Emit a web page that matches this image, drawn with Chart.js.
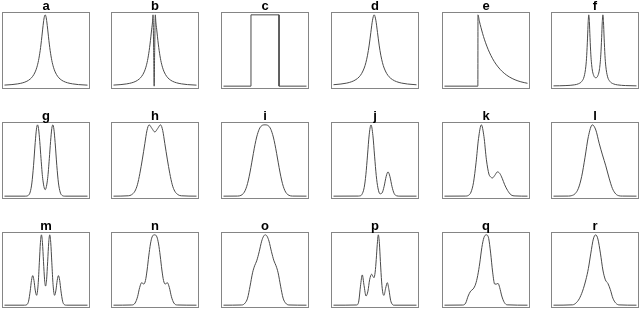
<!DOCTYPE html>
<html>
<head>
<meta charset="utf-8">
<script src="https://cdn.jsdelivr.net/npm/chart.js@4.4.1/dist/chart.umd.min.js"></script>
<style>
  html, body { margin: 0; padding: 0; background: #fff; overflow: hidden; }
  #wrap { position: relative; width: 640px; height: 310px; }
  #wrap canvas { position: absolute; }
</style>
</head>
<body>
<div id="wrap"></div>
<script>
// panel titles, left-to-right, top-to-bottom
const titles = ['a', 'b', 'c', 'd', 'e', 'f', 'g', 'h', 'i', 'j', 'k', 'l', 'm', 'n', 'o', 'p', 'q', 'r'];

// curves, x in 0..100 across the panel, y normalised to the peak
const aX = [0, 9, 16, 22, 27, 31, 34, 37, 39, 41, 43, 44, 45, 46, 47, 48, 49, 50, 51, 52, 53, 54, 55, 57, 59, 61, 64, 67, 71, 76, 82, 89, 100];
const aY = [0.015, 0.022, 0.032, 0.047, 0.069, 0.1, 0.138, 0.2, 0.265, 0.36, 0.5, 0.59, 0.692, 0.8, 0.9, 0.973, 1, 0.973, 0.9, 0.8, 0.692, 0.59, 0.5, 0.36, 0.265, 0.2, 0.138, 0.1, 0.069, 0.047, 0.032, 0.022, 0.014];

const bX = [0, 9, 16, 22, 27, 31, 34, 37, 39, 41, 43, 44, 45, 46, 47, 47.6, 48.4, 49, 49.6, 50.4, 51, 52, 53, 54, 55, 57, 59, 61, 64, 67, 71, 76, 82, 89, 100];
const bY = [0.015, 0.022, 0.032, 0.047, 0.069, 0.1, 0.138, 0.2, 0.265, 0.36, 0.5, 0.59, 0.692, 0.8, 0.9, 1, 0.5, 0, 0.5, 1, 0.9, 0.8, 0.692, 0.59, 0.5, 0.36, 0.265, 0.2, 0.138, 0.1, 0.069, 0.047, 0.032, 0.022, 0.014];

const cX = [0, 33.1, 33.1, 66.9, 66.9, 100];
const cY = [0, 0, 1, 1, 0, 0];

const dX = [0, 9, 16, 22, 27, 31, 34, 37, 39, 41, 43, 45, 47, 49, 51, 53, 55, 57, 59, 61, 64, 67, 71, 76, 82, 89, 100];
const dY = [0.02, 0.03, 0.043, 0.063, 0.092, 0.131, 0.179, 0.254, 0.329, 0.434, 0.576, 0.754, 0.925, 1, 0.925, 0.754, 0.576, 0.434, 0.329, 0.254, 0.179, 0.131, 0.092, 0.063, 0.043, 0.03, 0.019];

const eX = [0, 40.2, 40.35, 42, 44, 46, 48, 51, 54, 58, 62, 67, 72, 78, 85, 92, 100];
const eY = [0, 0, 1, 0.912, 0.819, 0.735, 0.659, 0.561, 0.477, 0.384, 0.309, 0.236, 0.18, 0.13, 0.089, 0.061, 0.04];

const fX = [0, 15, 25, 30, 34, 37, 39, 40, 41, 41.8, 42.5, 43.2, 44, 45, 46.5, 48.5, 51, 53.5, 55.5, 57, 58, 58.8, 59.5, 60.2, 61, 62, 63, 65, 68, 72, 77, 87, 100];
const fY = [0.004, 0.008, 0.018, 0.033, 0.066, 0.139, 0.28, 0.43, 0.674, 0.904, 1, 0.906, 0.68, 0.439, 0.247, 0.148, 0.118, 0.148, 0.247, 0.439, 0.68, 0.906, 1, 0.904, 0.674, 0.43, 0.28, 0.139, 0.066, 0.033, 0.018, 0.008, 0.004];

const gX = [0, 25, 29, 31, 33, 35, 37, 38.5, 39.8, 41, 42.5, 44, 46, 49, 52, 54, 55.5, 57, 58.2, 59.5, 61, 63, 65, 67, 69, 73, 100];
const gY = [0, 0, 0.014, 0.059, 0.185, 0.432, 0.751, 0.94, 1, 0.949, 0.766, 0.526, 0.25, 0.091, 0.25, 0.526, 0.766, 0.949, 1, 0.94, 0.751, 0.432, 0.185, 0.059, 0.014, 0, 0];

const hX = [0, 17.8, 21.8, 25.8, 28.8, 31.8, 34.8, 37.8, 40.3, 42.9, 46.3, 49.8, 53.3, 56.7, 59.3, 61.8, 64.8, 67.8, 70.8, 73.8, 77.8, 81.8, 100];
const hY = [0, 0.005, 0.02, 0.07, 0.16, 0.32, 0.52, 0.74, 0.92, 1, 0.95, 0.9, 0.95, 1, 0.92, 0.74, 0.52, 0.32, 0.16, 0.07, 0.02, 0.005, 0];

const iX = [0, 17, 21, 24, 26, 28, 30, 32, 34, 36, 38, 40, 43, 46, 50, 54, 57, 60, 62, 64, 66, 68, 70, 72, 74, 76, 79, 83, 100];
const iY = [0, 0.001, 0.011, 0.038, 0.076, 0.138, 0.226, 0.338, 0.467, 0.6, 0.725, 0.83, 0.938, 0.988, 1, 0.988, 0.938, 0.83, 0.725, 0.6, 0.467, 0.338, 0.226, 0.138, 0.076, 0.038, 0.011, 0.001, 0];

const jX = [0, 30, 31.5, 34, 37, 39, 41, 43, 45.2, 47.5, 49.5, 51.5, 53.5, 56, 58.5, 61, 63.5, 65.7, 68, 70.5, 73, 76, 80, 100];
const jY = [0, 0.001, 0.003, 0.02, 0.122, 0.301, 0.576, 0.86, 1, 0.848, 0.561, 0.289, 0.117, 0.033, 0.045, 0.138, 0.279, 0.34, 0.274, 0.133, 0.039, 0.005, 0, 0];

const kX = [0, 25, 29, 32, 35, 38, 41, 44.4, 47.5, 50.5, 53.5, 55.5, 57.7, 60.5, 63.8, 66.5, 69.5, 72.5, 76, 80, 85, 100];
const kY = [0, 0.001, 0.012, 0.058, 0.195, 0.468, 0.807, 1, 0.838, 0.51, 0.31, 0.27, 0.255, 0.29, 0.34, 0.32, 0.25, 0.16, 0.08, 0.02, 0.003, 0];

const lX = [0, 18, 22, 26, 30, 34, 38, 42, 46.8, 51, 55, 59, 63, 67, 71, 75, 79, 83, 100];
const lY = [0, 0.001, 0.008, 0.034, 0.11, 0.278, 0.546, 0.835, 1, 0.927, 0.743, 0.578, 0.425, 0.253, 0.107, 0.031, 0.005, 0.001, 0];

const mX = [0, 24, 27, 29, 31, 32.5, 34, 35.5, 37, 38.7, 40.5, 42, 43.3, 44.5, 45.7, 47, 48.3, 49.5, 50.7, 52, 53.3, 54.5, 55.7, 57, 58.5, 60.3, 62, 63.5, 65, 66.5, 68, 70, 72, 75, 100];
const mY = [0, 0, 0.008, 0.057, 0.204, 0.351, 0.42, 0.352, 0.215, 0.14, 0.292, 0.61, 0.891, 1, 0.893, 0.618, 0.361, 0.271, 0.361, 0.618, 0.893, 1, 0.891, 0.61, 0.292, 0.14, 0.215, 0.352, 0.42, 0.351, 0.204, 0.057, 0.008, 0, 0];

const nX = [0, 22, 26, 29, 31.5, 34, 36.5, 38.5, 40.5, 42.5, 44.5, 46.5, 49.4, 52.3, 54.3, 56.3, 58.3, 60.3, 62.3, 64.8, 67.3, 69.8, 72.8, 76.8, 100];
const nY = [0, 0.003, 0.03, 0.12, 0.25, 0.32, 0.3, 0.35, 0.5, 0.7, 0.87, 0.97, 1, 0.97, 0.87, 0.7, 0.5, 0.35, 0.3, 0.32, 0.25, 0.12, 0.03, 0.003, 0];

const oX = [0, 22, 26, 29, 32, 35, 37.5, 40, 43, 46, 48.3, 50.4, 52.5, 54.8, 57.8, 60.8, 63.3, 65.8, 68.8, 71.8, 74.8, 78.8, 100];
const oY = [0, 0.003, 0.03, 0.1, 0.27, 0.46, 0.56, 0.63, 0.76, 0.91, 0.98, 1, 0.98, 0.91, 0.76, 0.63, 0.56, 0.46, 0.27, 0.1, 0.03, 0.003, 0];

const pX = [0, 28, 30.5, 32.5, 34.7, 36.8, 39.2, 41.5, 43.5, 46, 47.5, 48.7, 50.2, 51.5, 52.7, 54, 55.3, 56.5, 58, 59.5, 60.8, 62.8, 64.8, 66.8, 68.8, 71, 73, 100];
const pY = [0, 0.003, 0.06, 0.27, 0.43, 0.28, 0.13, 0.2, 0.36, 0.44, 0.41, 0.39, 0.47, 0.65, 0.86, 1, 0.88, 0.62, 0.33, 0.17, 0.14, 0.24, 0.32, 0.22, 0.07, 0.01, 0, 0];

const qX = [0, 22, 25.5, 28.5, 31.5, 34.5, 37.5, 40, 42.5, 45, 47.5, 50.4, 53.2, 55.6, 58, 60.5, 62.5, 64.5, 66.5, 69, 72, 75.5, 100];
const qY = [0, 0.002, 0.03, 0.13, 0.2, 0.23, 0.3, 0.42, 0.6, 0.82, 0.96, 1, 0.95, 0.74, 0.47, 0.3, 0.3, 0.31, 0.25, 0.13, 0.04, 0.005, 0];

const rX = [0, 23, 27, 31, 35, 39, 42, 45, 48, 50.8, 53.5, 56.5, 59.5, 62.5, 65.5, 68.5, 71.5, 75, 79, 100];
const rY = [0, 0.005, 0.03, 0.09, 0.2, 0.36, 0.52, 0.74, 0.94, 1, 0.94, 0.74, 0.5, 0.36, 0.31, 0.22, 0.1, 0.03, 0.004, 0];

const curves = [
  [aX, aY], [bX, bY], [cX, cY], [dX, dY], [eX, eY], [fX, fY],
  [gX, gY], [hX, hY], [iX, iY], [jX, jY], [kX, kY], [lX, lY],
  [mX, mY], [nX, nY], [oX, oY], [pX, pY], [qX, qY], [rX, rY]
];

// grid layout (page pixels)
const colLeft = [2, 111, 221, 331, 442, 551];
const rowTop = [12, 122, 232];
const rowH = [77, 77, 76];
const panelW = 88;
const titleSpace = 12;

const framePlugin = {
  id: 'frame',
  afterDraw(chart, args, opts) {
    const ctx = chart.ctx;
    const a = chart.chartArea;
    ctx.save();
    ctx.strokeStyle = '#858585';
    ctx.lineWidth = 1;
    ctx.strokeRect(a.left + 0.5, a.top + 0.5, a.right - a.left - 1, a.bottom - a.top - 1);
    ctx.fillStyle = '#000';
    ctx.font = 'bold 13px "Liberation Sans", Arial, sans-serif';
    ctx.textAlign = 'center';
    ctx.textBaseline = 'alphabetic';
    ctx.fillText(opts.label, (a.left + a.right) / 2, a.top - 2.5);
    ctx.restore();
  }
};

const wrap = document.getElementById('wrap');

curves.forEach(function(c, i) {
  const row = Math.floor(i / 6);
  const col = i % 6;
  const cv = document.createElement('canvas');
  cv.width = panelW;
  cv.height = rowH[row] + titleSpace;
  cv.style.left = colLeft[col] + 'px';
  cv.style.top = (rowTop[row] - titleSpace) + 'px';
  wrap.appendChild(cv);

  const pts = c[0].map((x, k) => ({ x: x, y: c[1][k] }));
  const square = titles[i] === 'c';

  new Chart(cv.getContext('2d'), {
    type: 'line',
    data: {
      datasets: [{
        data: pts,
        borderColor: '#4a4a4a',
        borderWidth: 1,
        borderJoinStyle: 'round',
        pointRadius: 0,
        fill: false,
        tension: 0,
        cubicInterpolationMode: square ? 'default' : 'monotone'
      }]
    },
    options: {
      responsive: false,
      animation: false,
      events: [],
      layout: { padding: { top: titleSpace, left: 0, right: 0, bottom: 0 } },
      scales: {
        x: { type: 'linear', min: -3, max: 103, display: false },
        y: { min: -0.04, max: 1.04, display: false }
      },
      plugins: {
        legend: { display: false },
        tooltip: { enabled: false },
        frame: { label: titles[i] }
      }
    },
    plugins: [framePlugin]
  });
});
</script>
</body>
</html>
